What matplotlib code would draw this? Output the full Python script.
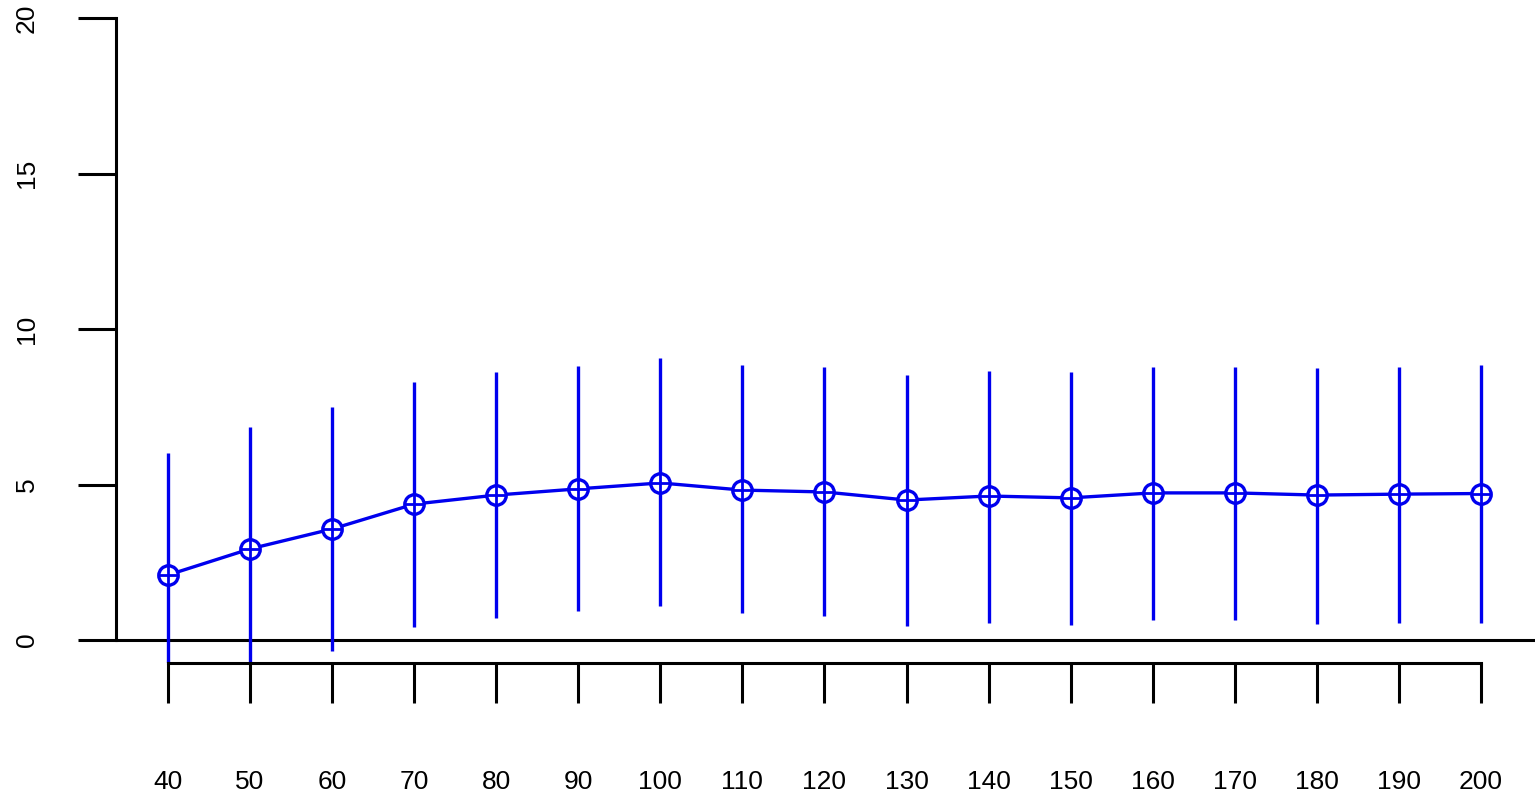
import matplotlib
matplotlib.use("Agg")
import matplotlib.pyplot as plt
plt.rcParams['font.family'] = ['Liberation Sans', 'DejaVu Sans']

x = [40,50,60,70,80,90,100,110,120,130,140,150,160,170,180,190,200]
mean = [2.09,2.93,3.57,4.37,4.66,4.86,5.05,4.82,4.76,4.50,4.63,4.57,4.73,4.73,4.66,4.69,4.71]
upper = [6.01,6.85,7.49,8.30,8.62,8.81,9.07,8.84,8.78,8.52,8.65,8.62,8.78,8.78,8.75,8.78,8.84]
lower = [-1.83,-0.99,-0.35,0.42,0.71,0.93,1.09,0.87,0.77,0.45,0.55,0.48,0.64,0.64,0.51,0.55,0.55]
yticks = [0,5,10,15,20]

W, H = 1535, 800
fig = plt.figure(figsize=(W/100, H/100), dpi=100)
ax = fig.add_axes([116/W, (H-663)/H, 1-116/W, (663-18)/H])
ax.set_xlim(40-52/8.206, 40+1367/8.206)
ax.set_ylim(-23/31.1, 20)

blue = "#0000ee"
ax.vlines(x, lower, upper, color=blue, lw=2.4, zorder=2)
ax.plot(x, mean, color=blue, lw=2.4, zorder=3)
ax.plot(x, mean, 'o', ms=14, mfc='white', mec=blue, mew=2.4, zorder=4)
ax.plot(x, mean, '+', ms=14, mec=blue, mew=2.0, zorder=5)
ax.axhline(0, color='black', lw=2.2, zorder=1)

for s in ['top', 'right']:
    ax.spines[s].set_visible(False)
ax.spines['left'].set_bounds(0, 20)
ax.spines['bottom'].set_bounds(40, 200)
for s in ['left', 'bottom']:
    ax.spines[s].set_linewidth(2.2)
ax.set_yticks(yticks)
ax.set_yticklabels([str(v) for v in yticks], rotation=90, va='center')
ax.set_xticks(x)
ax.set_xticklabels([str(v) for v in x])
ax.tick_params(axis='y', length=27.4, width=2.2, labelsize=19, pad=28)
ax.tick_params(axis='x', length=28.8, width=2.2, labelsize=19, pad=48)

fig.savefig("out.png", dpi=100)
